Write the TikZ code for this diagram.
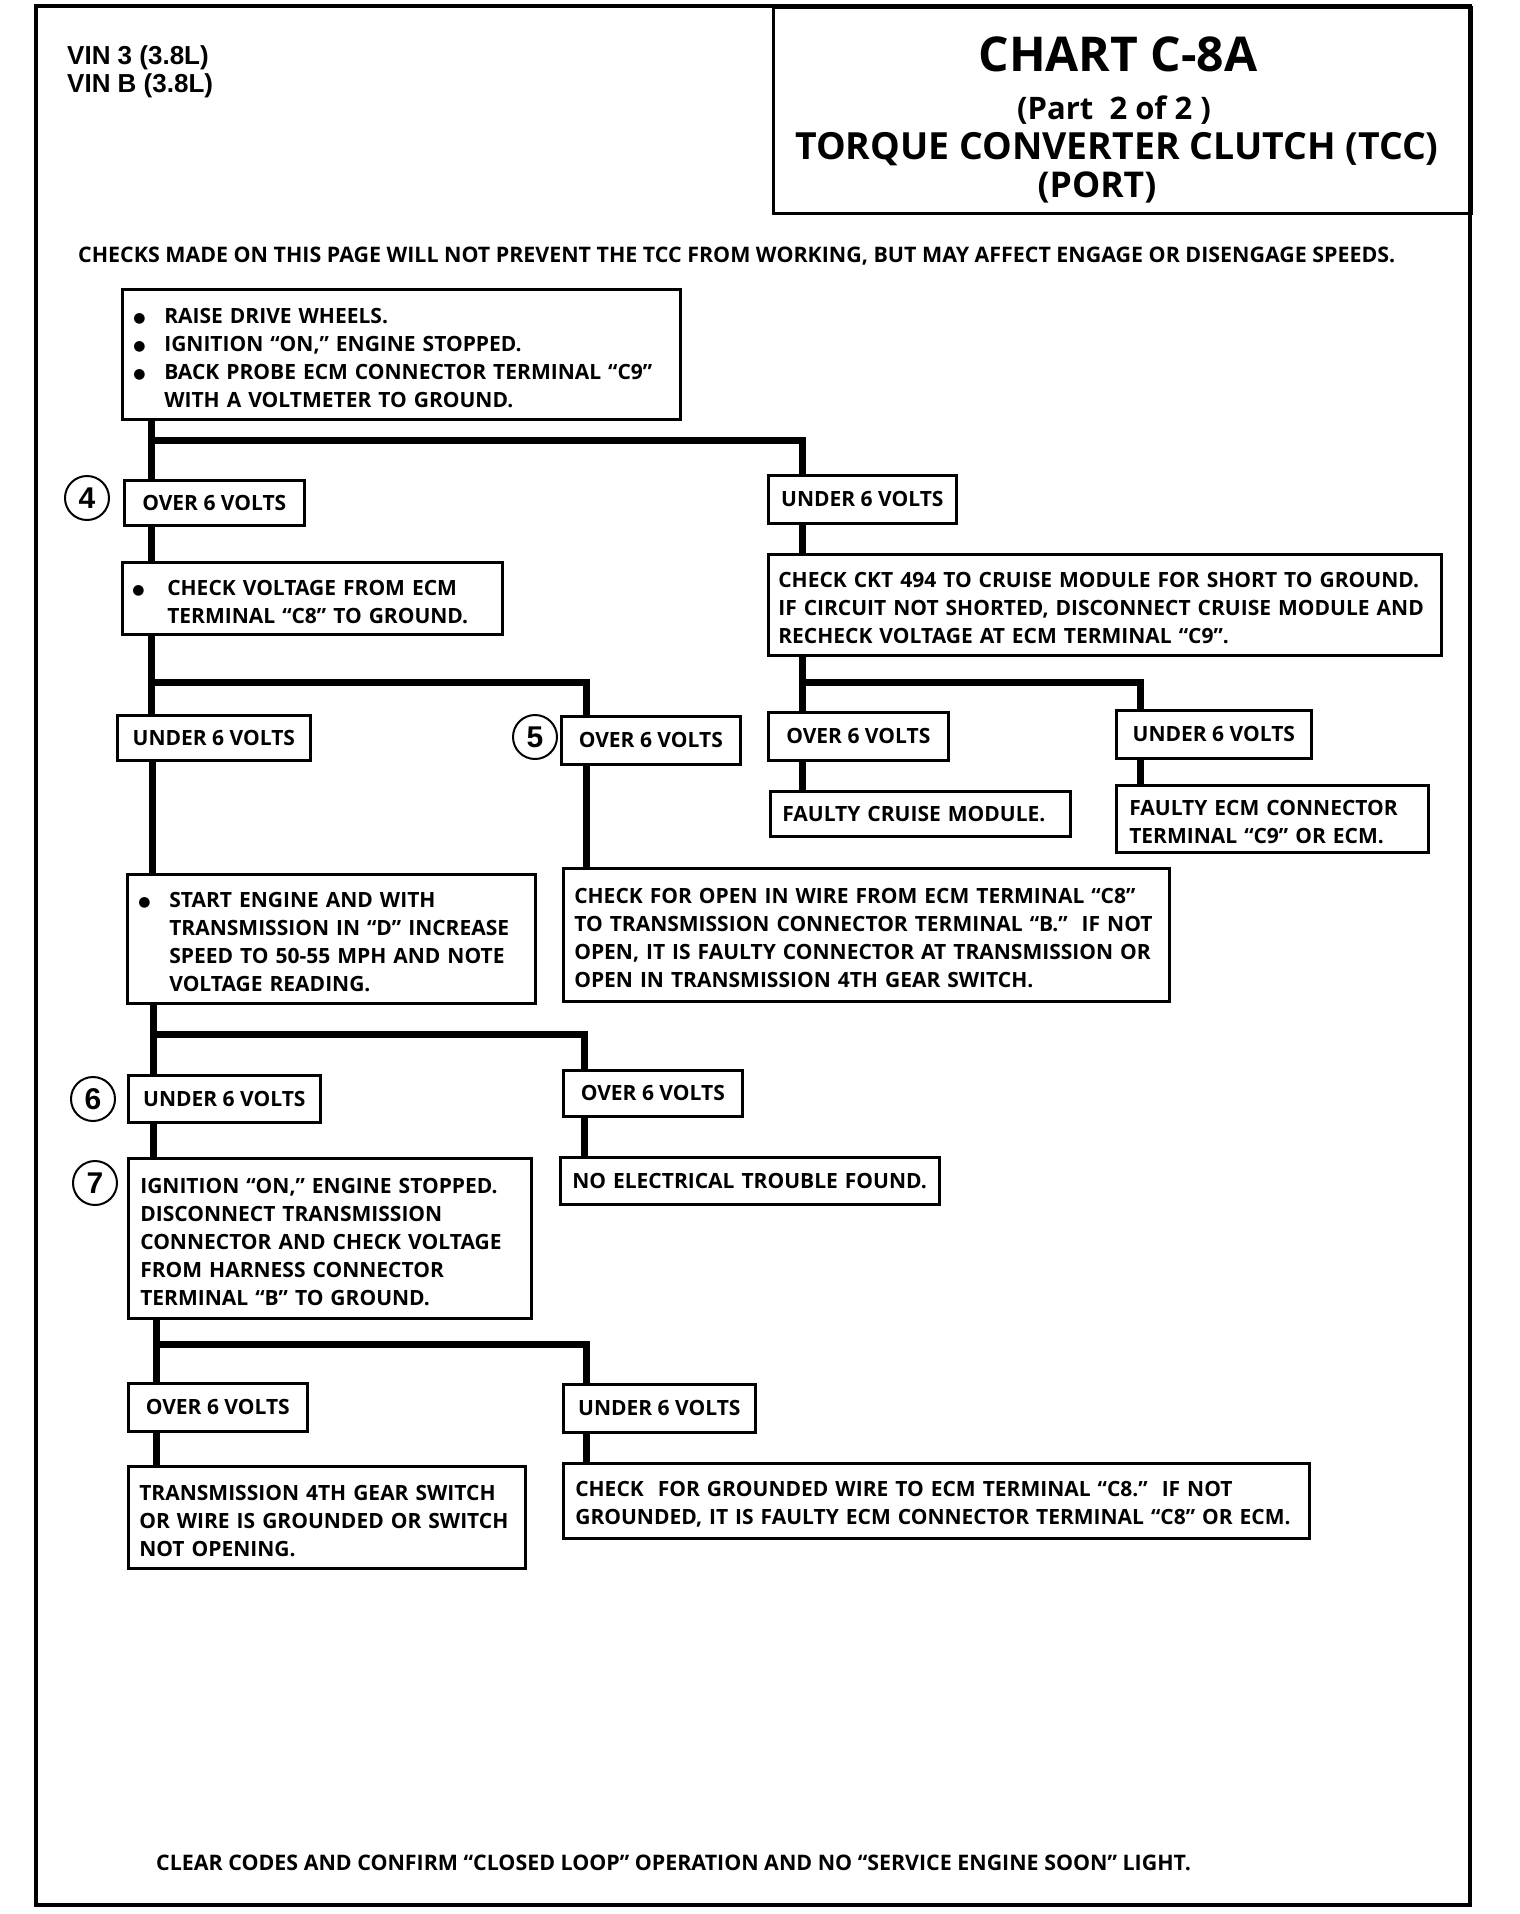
\documentclass[tikz,border=0pt]{standalone}
\usepackage{fontspec}
\setmainfont{Open Sans}
\newfontfamily\vinfont{Liberation Sans}
\newfontfamily\symfont{DejaVu Sans}
\newcommand\bul[1]{\makebox[#1][l]{\symfont\fontsize{14}{14}\selectfont\raisebox{1pt}{●}}}
\begin{document}
\begin{tikzpicture}[x=1pt,y=-1pt,
  txt/.style={font=\bfseries\fontsize{21}{28}\selectfont},
  box/.style={draw, line width=2.6pt, anchor=north west, inner ysep=0pt, align=left, txt},
  mbox/.style={box, execute at begin node={\rule{0pt}{22.5pt}}},
  lbl/.style={draw, line width=2.6pt, anchor=north west, inner sep=0pt, align=center, txt},
  conn/.style={line width=7pt, line cap=butt, line join=miter},
  num/.style={circle, draw, line width=2pt, minimum size=44pt, inner sep=0pt, font=\vinfont\bfseries\fontsize{30}{30}\selectfont}]
\useasboundingbox (0,0) rectangle (1520,1914);
\fill[white] (0,0) rectangle (1520,1914);
% page frame and header
\draw[line width=4.5pt] (36,6) rectangle (1470,1905);
\node[draw, line width=3pt, anchor=north west, minimum width=698pt, minimum height=206pt, inner sep=0pt] (hdr) at (772,6) {};
\node[font=\bfseries\fontsize{48}{48}\selectfont] (title) at (1118,54) {CHART C-8A};
\node[font=\bfseries\fontsize{31}{31}\selectfont] (part) at (1114,110) {(Part\ \ 2 of 2 )};
\node[font=\bfseries\fontsize{37.4}{37.4}\selectfont] (tcc) at (1117,149) {TORQUE CONVERTER CLUTCH (TCC)};
\node[font=\bfseries\fontsize{35.5}{35.5}\selectfont] (port) at (1097,187) {(PORT)};
\node[anchor=north west, inner sep=0pt, align=left, font=\vinfont\bfseries\fontsize{26}{28.5}\selectfont] (vin) at (67,45) {VIN 3 (3.8L)\\VIN B (3.8L)};
\node[anchor=west, inner sep=0pt, font=\bfseries\fontsize{21.4}{28}\selectfont] (chk) at (78,256) {CHECKS MADE ON THIS PAGE WILL NOT PREVENT THE TCC FROM WORKING, BUT MAY AFFECT ENGAGE OR DISENGAGE SPEEDS.};
\node[anchor=west, inner sep=0pt, font=\bfseries\fontsize{21.4}{28}\selectfont] (clr) at (156,1863) {CLEAR CODES AND CONFIRM “CLOSED LOOP” OPERATION AND NO “SERVICE ENGINE SOON” LIGHT.};
% boxes
\node[mbox, inner xsep=11pt, minimum height=130pt, text width=536pt] (A) at (121,288)
 {\bul{31pt}RAISE DRIVE WHEELS.\\\bul{31pt}IGNITION “ON,” ENGINE STOPPED.\\\bul{31pt}BACK PROBE ECM CONNECTOR TERMINAL “C9”\\\hspace*{31pt}WITH A VOLTMETER TO GROUND.};
\node[lbl, minimum width=180pt, minimum height=45pt] (o4) at (123,479) {OVER 6 VOLTS};
\node[lbl, minimum width=188pt, minimum height=48pt] (u1) at (767,474) {UNDER 6 VOLTS};
\node[mbox, inner xsep=10pt, minimum height=72pt, text width=360pt] (B) at (121,561)
 {\bul{35pt}CHECK VOLTAGE FROM ECM\\\hspace*{35pt}TERMINAL “C8” TO GROUND.};
\node[mbox, inner xsep=10pt, minimum height=101pt, text width=653pt] (C) at (767,553)
 {CHECK CKT 494 TO CRUISE MODULE FOR SHORT TO GROUND.\\IF CIRCUIT NOT SHORTED, DISCONNECT CRUISE MODULE AND\\RECHECK VOLTAGE AT ECM TERMINAL “C9”.};
\node[lbl, minimum width=193pt, minimum height=45pt] (u2L) at (116,714) {UNDER 6 VOLTS};
\node[lbl, minimum width=179pt, minimum height=48pt] (o5) at (560,715) {OVER 6 VOLTS};
\node[lbl, minimum width=180pt, minimum height=48pt] (o2R) at (767,711) {OVER 6 VOLTS};
\node[lbl, minimum width=195pt, minimum height=48pt] (u2R) at (1115,709) {UNDER 6 VOLTS};
\node[box, inner xsep=12pt, minimum height=45pt, text width=276pt] (FCM) at (769,790) {FAULTY CRUISE MODULE.};
\node[mbox, inner xsep=13pt, minimum height=67pt, text width=286pt] (FECM) at (1115,784) {FAULTY ECM CONNECTOR\\TERMINAL “C9” OR ECM.};
\node[mbox, inner xsep=11pt, minimum height=129pt, text width=386pt] (D) at (126,873)
 {\bul{31pt}START ENGINE AND WITH\\\hspace*{31pt}TRANSMISSION IN “D” INCREASE\\\hspace*{31pt}SPEED TO 50-55 MPH AND NOTE\\\hspace*{31pt}VOLTAGE READING.};
\node[mbox, inner xsep=11pt, minimum height=133pt, text width=584pt] (E) at (562,867)
 {CHECK FOR OPEN IN WIRE FROM ECM TERMINAL “C8”\\TO TRANSMISSION CONNECTOR TERMINAL “B.”\ \ IF NOT\\OPEN, IT IS FAULTY CONNECTOR AT TRANSMISSION OR\\OPEN IN TRANSMISSION 4TH GEAR SWITCH.};
\node[lbl, minimum width=192pt, minimum height=47pt] (u6) at (127,1074) {UNDER 6 VOLTS};
\node[lbl, minimum width=179pt, minimum height=46pt] (o3) at (562,1069) {OVER 6 VOLTS};
\node[box, inner xsep=12pt, minimum height=47pt, text width=355pt] (NET) at (559,1156) {NO ELECTRICAL TROUBLE FOUND.};
\node[mbox, inner xsep=12pt, minimum height=160pt, text width=379pt] (F) at (127,1157)
 {IGNITION “ON,” ENGINE STOPPED.\\DISCONNECT TRANSMISSION\\CONNECTOR AND CHECK VOLTAGE\\FROM HARNESS CONNECTOR\\TERMINAL “B” TO GROUND.};
\node[lbl, minimum width=179pt, minimum height=48pt] (o7) at (127,1382) {OVER 6 VOLTS};
\node[lbl, minimum width=192pt, minimum height=48pt] (u7) at (562,1383) {UNDER 6 VOLTS};
\node[mbox, inner xsep=11pt, minimum height=102pt, text width=375pt] (G) at (127,1465)
 {TRANSMISSION 4TH GEAR SWITCH\\OR WIRE IS GROUNDED OR SWITCH\\NOT OPENING.};
\node[mbox, inner xsep=12pt, minimum height=75pt, text width=722pt] (H) at (562,1462)
 {CHECK\ \ FOR GROUNDED WIRE TO ECM TERMINAL “C8.”\ \ IF NOT\\GROUNDED, IT IS FAULTY ECM CONNECTOR TERMINAL “C8” OR ECM.};
% step numbers
\node[num] (n4) at (87,498) {4};
\node[num] (n5) at (535,737) {5};
\node[num] (n6) at (93,1099) {6};
\node[num] (n7) at (95,1183) {7};
% connectors
\coordinate (j1) at (151,440); \coordinate (j1r) at (802,440);
\draw[conn] (A.south -| j1) -- (o4.north -| j1);
\draw[conn] (j1) -- (j1r) -- (u1.north -| j1r);
\draw[conn] (o4.south -| j1) -- (B.north -| j1);
\draw[conn] (u1.south -| j1r) -- (C.north -| j1r);
\coordinate (j2) at (151,682); \coordinate (j2r) at (586,682);
\draw[conn] (B.south -| j2) -- (u2L.north -| j2);
\draw[conn] (j2) -- (j2r) -- (o5.north -| j2r);
\draw[conn] (o5.south -| j2r) -- (E.north -| j2r);
\coordinate (j3) at (802,682); \coordinate (j3r) at (1140,682);
\draw[conn] (C.south -| j3) -- (o2R.north -| j3);
\draw[conn] (j3) -- (j3r) -- (u2R.north -| j3r);
\draw[conn] (o2R.south -| j3) -- (FCM.north -| j3);
\draw[conn] (u2R.south -| j3r) -- (FECM.north -| j3r);
\coordinate (t4) at (152,800);
\draw[conn] (u2L.south -| t4) -- (D.north -| t4);
\coordinate (j5) at (153,1034); \coordinate (j5r) at (584,1034);
\draw[conn] (D.south -| j5) -- (u6.north -| j5);
\draw[conn] (j5) -- (j5r) -- (o3.north -| j5r);
\draw[conn] (o3.south -| j5r) -- (NET.north -| j5r);
\draw[conn] (u6.south -| j5) -- (F.north -| j5);
\coordinate (j6) at (156,1344); \coordinate (j6r) at (586,1344);
\draw[conn] (F.south -| j6) -- (o7.north -| j6);
\draw[conn] (j6) -- (j6r) -- (u7.north -| j6r);
\draw[conn] (o7.south -| j6) -- (G.north -| j6);
\draw[conn] (u7.south -| j6r) -- (H.north -| j6r);
\end{tikzpicture}
\end{document}
